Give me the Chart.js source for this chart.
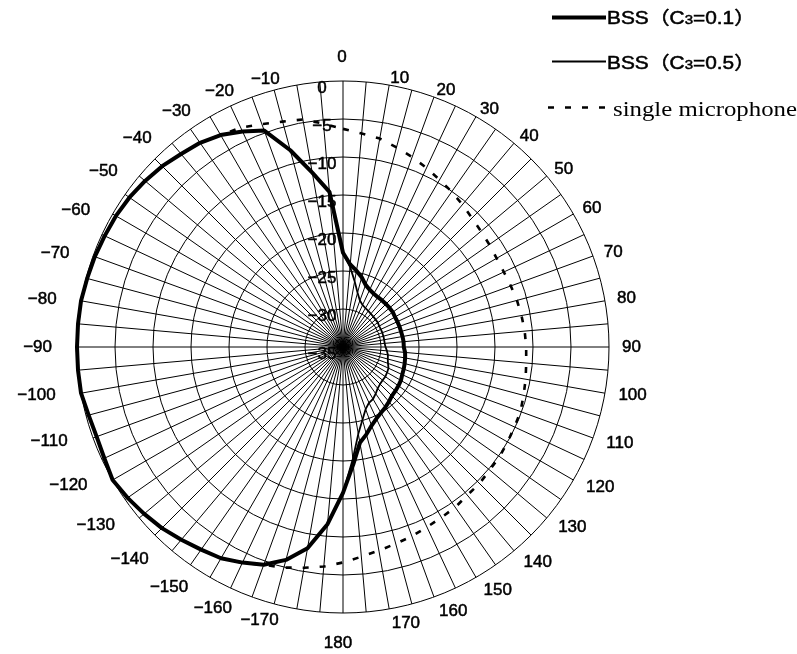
<!DOCTYPE html>
<html>
<head>
<meta charset="utf-8">
<title>Directivity pattern</title>
<script src="https://cdn.jsdelivr.net/npm/chart.js@4.4.1/dist/chart.umd.min.js"></script>
<style>
  html, body { margin: 0; padding: 0; background: #fff; }
  #wrap { width: 797px; height: 654px; }
</style>
</head>
<body>
<div id="wrap"><canvas id="polar" width="797" height="654"></canvas></div>
<script>
// direction of arrival in degrees, clockwise from the top (185 = -175 ...)
const angles = [
  0, 5, 10, 15, 20, 25, 30, 35, 40, 45, 50, 55, 60, 65, 70, 75, 80, 85,
  90, 95, 100, 105, 110, 115, 120, 125, 130, 135, 140, 145, 150, 155, 160, 165, 170, 175,
  180, 185, 190, 195, 200, 205, 210, 215, 220, 225, 230, 235, 240, 245, 250, 255, 260, 265,
  270, 275, 280, 285, 290, 295, 300, 305, 310, 315, 320, 325, 330, 335, 340, 345, 350, 355
];

// gain in dB
const bss01 = [
  -22.6, -24.1, -24.8, -25.5, -26.3, -26.7, -26.9, -27.0, -27.0, -27.0,
  -27.0, -27.0, -27.1, -27.1, -27.1, -27.1, -27.05, -27.0, -27.0, -26.8,
  -26.7, -26.6, -26.5, -26.4, -26.2, -26.1, -26.0, -25.9, -25.6, -25.3,
  -25.0, -24.6, -24.0, -23.1, -22.2, -19.5, -15.8, -11.6, -8.1, -6.0,
  -4.5, -3.7, -2.9, -2.45, -1.9, -1.3, -0.85, -0.4, 0, -0.35,
  -0.5, -0.35, 0, 0, 0, 0, 0, -0.15, -0.25, -0.4,
  -0.5, -0.7, -1.0, -1.35, -1.85, -2.2, -2.8, -3.7, -4.7, -8.2,
  -11.7, -14.5
];

const bss05 = [
  -22.6, -24.4, -26.2, -27.6, -28.5, -28.9, -29.1, -29.2, -29.3, -29.35,
  -29.4, -29.4, -29.5, -29.5, -29.5, -29.5, -29.5, -29.5, -29.4, -29.2,
  -29.0, -28.9, -28.7, -28.4, -28.3, -28.2, -28.2, -28.1, -27.9, -27.5,
  -27.1, -26.9, -26.3, -25.1, -23.4, -20.2, -15.8, -11.6, -8.1, -6.0,
  -4.5, -3.7, -2.9, -2.45, -1.9, -1.3, -0.85, -0.4, 0, -0.35,
  -0.5, -0.35, 0, 0, 0, 0, 0, -0.15, -0.25, -0.4,
  -0.5, -0.7, -1.0, -1.35, -1.85, -2.2, -2.8, -3.7, -4.7, -8.2,
  -11.7, -14.5
];

const singleMic = [
  -6.3, -6.8, -7.15, -7.8, -8.4, -9.0, -9.6, -10.05, -10.55, -11.0,
  -11.3, -11.5, -11.65, -11.65, -11.5, -11.3, -11.15, -11.0, -10.9, -10.8,
  -10.6, -10.4, -10.15, -10.1, -10.0, -9.85, -9.8, -9.6, -9.55, -9.25,
  -9.1, -8.85, -8.5, -8.2, -7.8, -7.3, -6.65, -6.0, -5.5, -4.95,
  -4.5, -3.7, -2.9, -2.45, -1.9, -1.3, -0.85, -0.4, 0, -0.35,
  -0.5, -0.35, 0, 0, 0, 0, 0, -0.15, -0.25, -0.4,
  -0.5, -0.7, -1.0, -1.35, -1.85, -2.2, -2.8, -3.15, -3.8, -4.3,
  -4.6, -5.5
];

const radialTicks = [-35, -30, -25, -20, -15, -10, -5, 0];
const seriesNames = ['BSS（C3=0.1）', 'BSS（C3=0.5）', 'single microphone'];

const sansFamily = '"Liberation Sans", Arial, "Noto Sans CJK JP", sans-serif';
const serifFamily = '"Liberation Serif", "Times New Roman", serif';

function minus(v) {
  return v < 0 ? '\u2212' + Math.abs(v) : String(v);
}

function angleText(a) {
  const s = a > 180 ? a - 360 : a;
  return s % 10 === 0 ? minus(s) : '';
}

// fill plus a hairline stroke, the print is a bit heavier than plain Arial
function heavyText(ctx, text, x, y) {
  ctx.fillText(text, x, y);
  ctx.strokeText(text, x, y);
}

// dB values written inside the rings, just left of the 0 deg spoke
const ringLabels = {
  id: 'ringLabels',
  beforeDatasetsDraw(chart) {
    const r = chart.scales.r;
    const ctx = chart.ctx;
    ctx.save();
    ctx.font = '17px ' + sansFamily;
    ctx.fillStyle = '#000';
    ctx.strokeStyle = '#000';
    ctx.lineWidth = 0.5;
    ctx.textAlign = 'center';
    ctx.textBaseline = 'middle';
    radialTicks.forEach(v => {
      const d = r.getDistanceFromCenterForValue(v);
      heavyText(ctx, minus(v), r.xCenter - 21, r.yCenter - d + 7);
    });
    ctx.restore();
  }
};

// angle labels round the outside
const angleLabels = {
  id: 'angleLabels',
  afterDraw(chart) {
    const r = chart.scales.r;
    const ctx = chart.ctx;
    const R = r.drawingArea;
    ctx.save();
    ctx.font = '17px ' + sansFamily;
    ctx.fillStyle = '#000';
    ctx.strokeStyle = '#000';
    ctx.lineWidth = 0.5;
    ctx.textBaseline = 'middle';
    chart.data.labels.forEach((a, i) => {
      const text = angleText(a);
      if (!text) return;
      const rad = a * Math.PI / 180;
      let p;
      if (a === 0 || a === 180) {
        ctx.textAlign = 'center';
        p = r.getPointPosition(i, a === 0 ? R + 24 : R + 30);
        heavyText(ctx, text, p.x - (a === 180 ? 5 : 1), p.y);
      } else if (a < 180) {
        ctx.textAlign = 'left';
        p = r.getPointPosition(i, R + 10 - 4 * Math.cos(rad) + 3 * Math.sin(rad));
        heavyText(ctx, text, p.x, p.y);
      } else {
        ctx.textAlign = 'right';
        p = r.getPointPosition(i, R + 9 - 3 * Math.cos(rad));
        heavyText(ctx, text, p.x - 16, p.y);
      }
    });
    ctx.restore();
  }
};

function drawLabel(ctx, text, x, y, size, family, targetW, heavy) {
  const m = text.match(/^(.*C)(\d)(.*)$/);
  const parts = m ? [[m[1], size], [m[2], size * 0.72], [m[3], size]] : [[text, size]];
  let w = 0;
  parts.forEach(p => {
    ctx.font = p[1] + 'px ' + family;
    w += ctx.measureText(p[0]).width;
  });
  ctx.save();
  ctx.translate(x, y);
  ctx.scale(targetW / w, 1);
  ctx.setLineDash([]);
  ctx.lineWidth = 0.5;
  let cx = 0;
  parts.forEach(p => {
    ctx.font = p[1] + 'px ' + family;
    if (heavy) heavyText(ctx, p[0], cx, 0);
    else ctx.fillText(p[0], cx, 0);
    cx += ctx.measureText(p[0]).width;
  });
  ctx.restore();
}

// legend in the top right corner
const sideLegend = {
  id: 'sideLegend',
  afterDraw(chart) {
    const ctx = chart.ctx;
    const rows = [
      { lineY: 17.5, baseY: 24, textX: 607, size: 18, family: sansFamily, w: 148, heavy: true },
      { lineY: 61.5, baseY: 69, textX: 607, size: 18, family: sansFamily, w: 148, heavy: true },
      { lineY: 107.5, baseY: 115.5, textX: 613, size: 22, family: serifFamily, w: 184, heavy: false }
    ];
    chart.data.datasets.forEach((ds, i) => {
      const row = rows[i];
      ctx.save();
      ctx.strokeStyle = ds.borderColor;
      ctx.lineWidth = ds.borderWidth;
      ctx.setLineDash(ds.borderDash || []);
      ctx.beginPath();
      ctx.moveTo(i === 2 ? 548 : 552, row.lineY);
      ctx.lineTo(606, row.lineY);
      ctx.stroke();
      ctx.fillStyle = '#000';
      ctx.strokeStyle = '#000';
      ctx.textAlign = 'left';
      ctx.textBaseline = 'alphabetic';
      drawLabel(ctx, ds.label, row.textX, row.baseY, row.size, row.family, row.w, row.heavy);
      ctx.restore();
    });
  }
};

new Chart(document.getElementById('polar'), {
  type: 'radar',
  data: {
    labels: angles,
    datasets: [
      {
        label: seriesNames[0],
        data: bss01,
        borderColor: '#000',
        borderWidth: 4,
        pointRadius: 0,
        fill: false,
        tension: 0
      },
      {
        label: seriesNames[1],
        data: bss05,
        borderColor: '#000',
        borderWidth: 1.8,
        pointRadius: 0,
        fill: false,
        tension: 0
      },
      {
        label: seriesNames[2],
        data: singleMic,
        borderColor: '#000',
        borderWidth: 2.6,
        borderDash: [6, 11],
        pointRadius: 0,
        fill: false,
        tension: 0
      }
    ]
  },
  options: {
    responsive: false,
    animation: false,
    layout: { padding: { left: 77, right: 188, top: 81, bottom: 41 } },
    elements: { line: { borderJoinStyle: 'round' } },
    plugins: {
      legend: { display: false },
      tooltip: { enabled: false }
    },
    scales: {
      r: {
        min: radialTicks[0],
        max: radialTicks[radialTicks.length - 1],
        ticks: { stepSize: 5, display: false },
        grid: { circular: true, color: '#000', lineWidth: 1 },
        angleLines: { color: '#000', lineWidth: 1 },
        pointLabels: { display: false }
      }
    }
  },
  plugins: [ringLabels, angleLabels, sideLegend]
});
</script>
</body>
</html>
